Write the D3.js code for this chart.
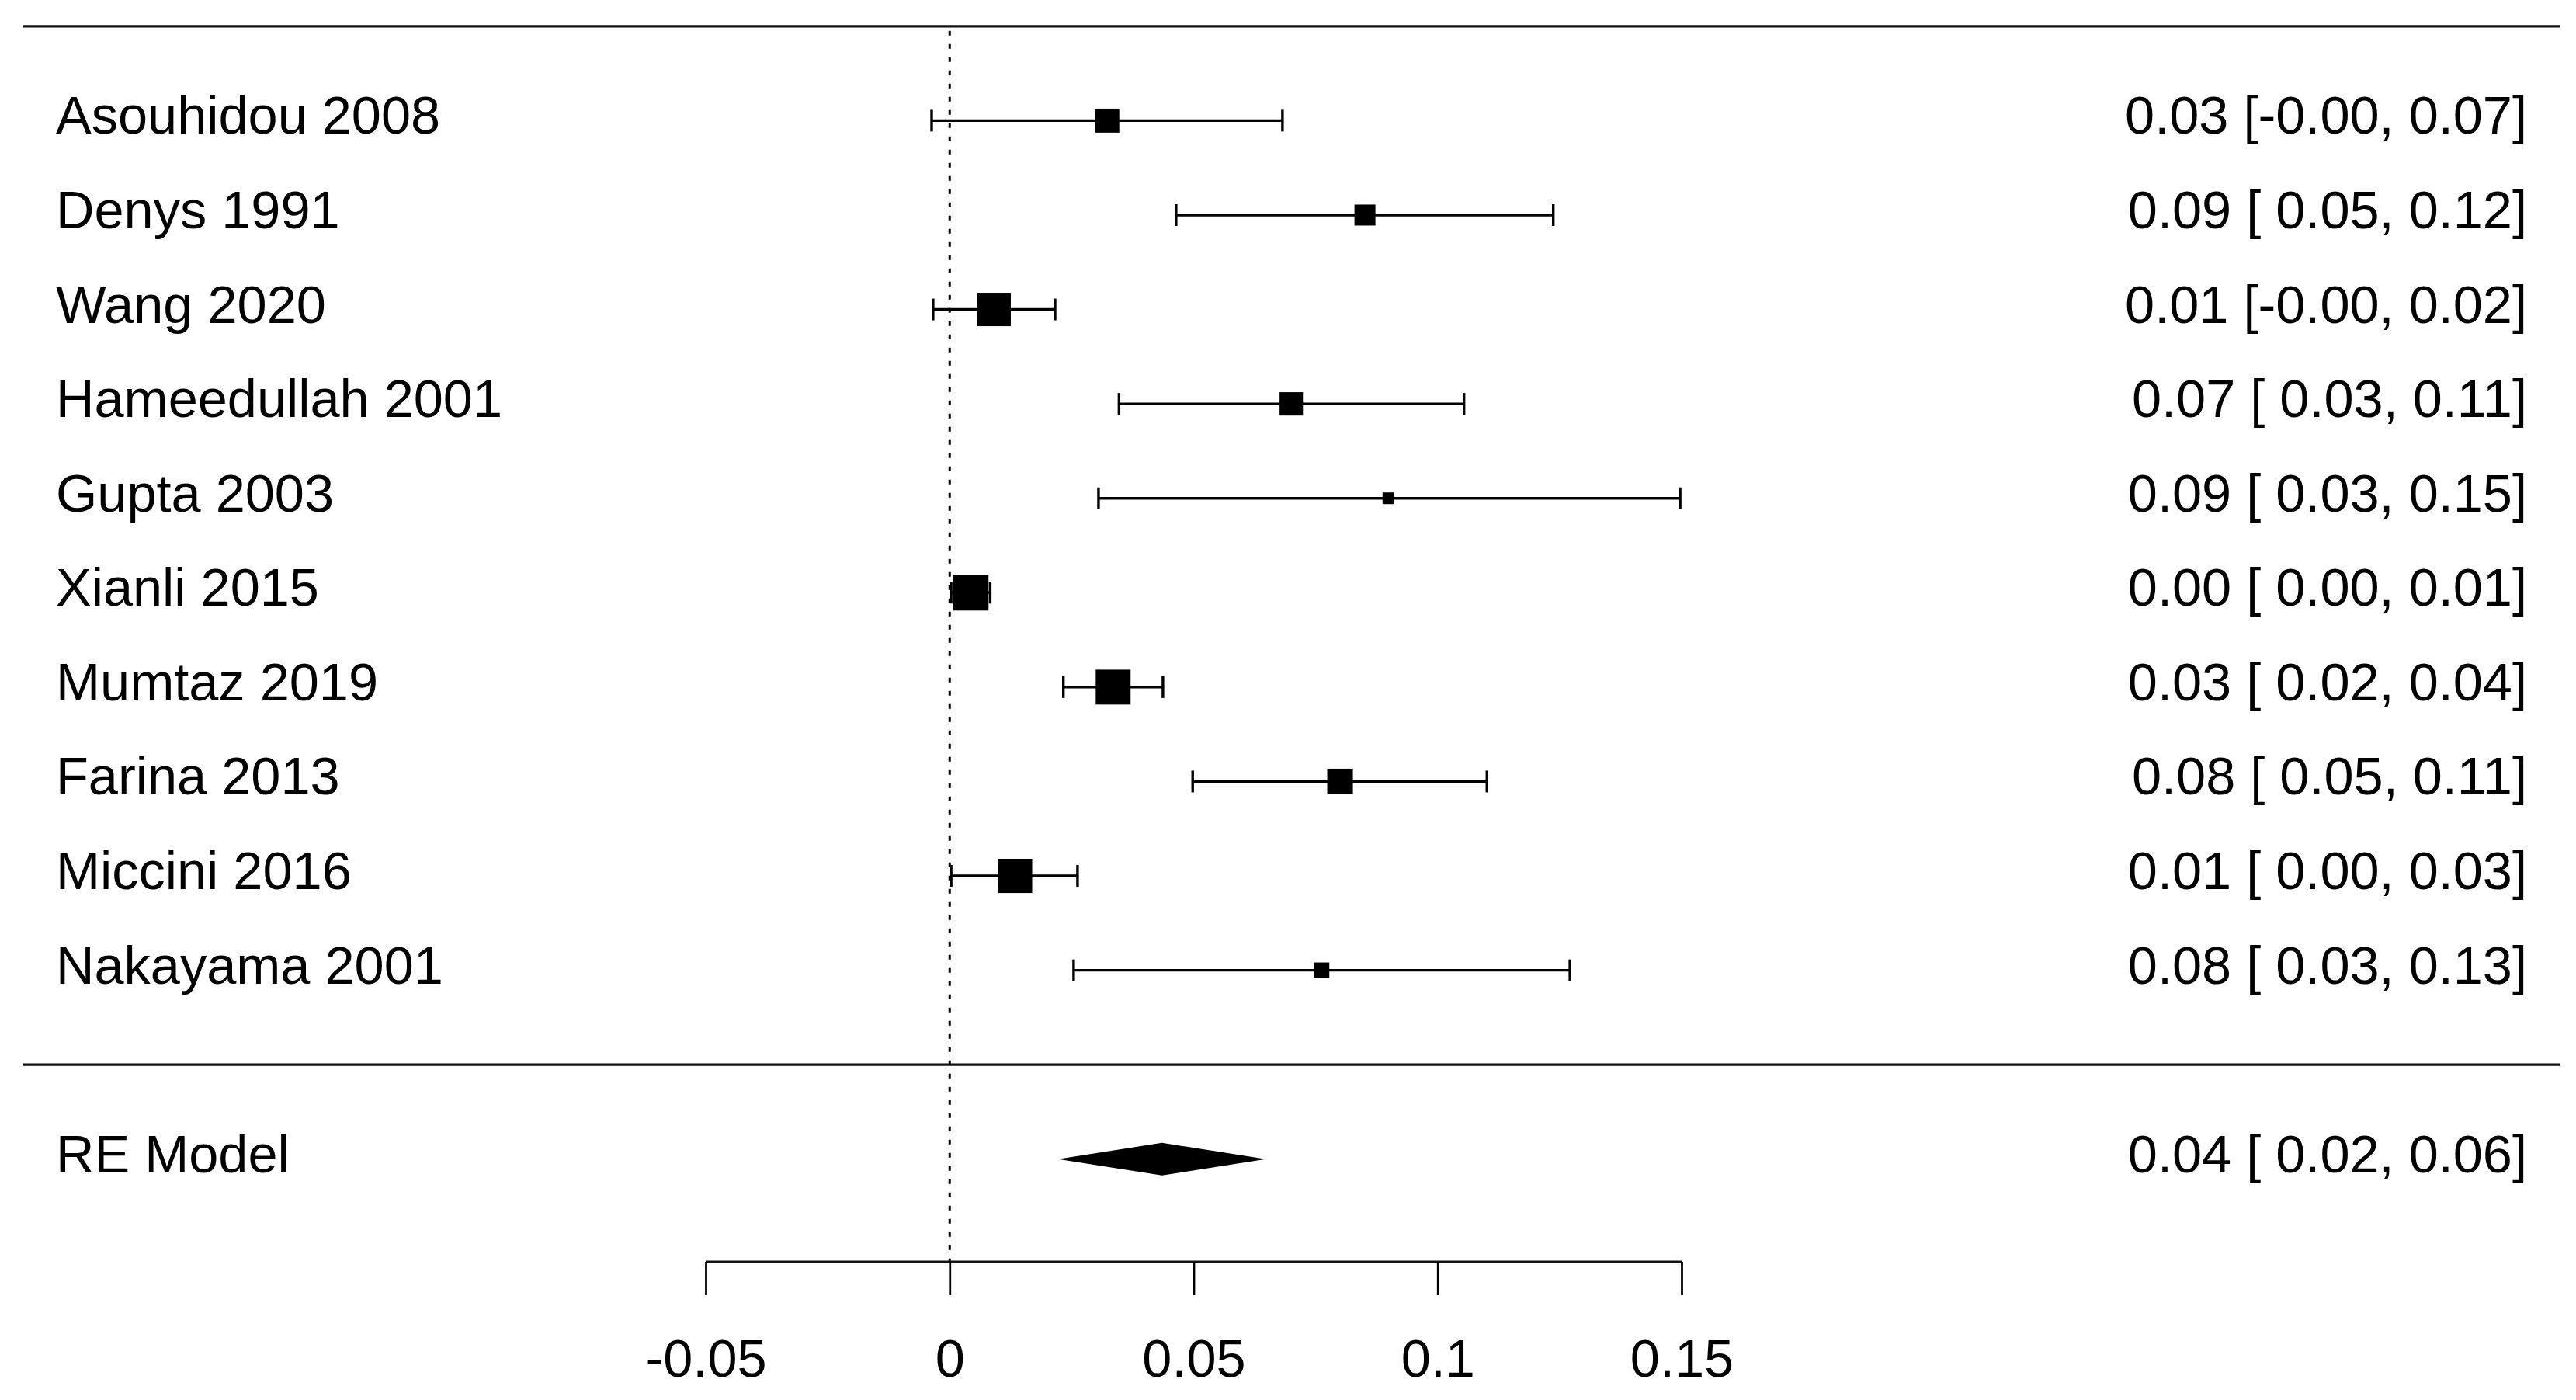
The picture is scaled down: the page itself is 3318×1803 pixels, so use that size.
<!DOCTYPE html>
<html>
<head>
<meta charset="utf-8">
<script src="https://cdn.jsdelivr.net/npm/d3@7"></script>
<style>
  html, body { margin: 0; padding: 0; background: #fff; }
  svg { display: block; }
  text { font-family: "Liberation Sans", Arial, Helvetica, sans-serif; fill: #000; }
</style>
</head>
<body>
<script>
// ---- data ----
const studies   = ["Asouhidou 2008", "Denys 1991", "Wang 2020", "Hameedullah 2001", "Gupta 2003",
                   "Xianli 2015", "Mumtaz 2019", "Farina 2013", "Miccini 2016", "Nakayama 2001"];
const estimates = [0.0323, 0.0851, 0.0091, 0.0700, 0.0899, 0.0043, 0.0335, 0.0800, 0.0134, 0.0762];
const ciLower   = [-0.0037, 0.0464, -0.0034, 0.0347, 0.0305, 0.0003, 0.0233, 0.0498, 0.0003, 0.0254];
const ciUpper   = [0.0682, 0.1237, 0.0216, 0.1054, 0.1497, 0.0083, 0.0437, 0.1101, 0.0262, 0.1271];
const weights   = [9.2, 7.75, 13.7, 8.9, 3.3, 14.8, 14.4, 10.0, 14.1, 5.2];
const modelLabel = "RE Model";
const modelEst   = 0.0435;
const modelLower = 0.0222;
const modelUpper = 0.0648;
const xTicks      = [-0.05, 0, 0.05, 0.1, 0.15];
const xTickLabels = ["-0.05", "0", "0.05", "0.1", "0.15"];

// ---- layout ----
const W = 3318, H = 1803;
const svg = d3.select("body").append("svg").attr("width", W).attr("height", H);
svg.append("rect").attr("width", W).attr("height", H).attr("fill", "#fff");

const k = studies.length;
const x = d3.scaleLinear().domain([-0.05, 0.15]).range([909, 2166]);
const y = d3.scaleLinear().domain([k + 1, 0]).range([33.8, 1371.2]);
const size = d3.scaleLinear().domain([d3.min(weights), d3.max(weights)]).range([15, 46]);

const lineLeft = 30, lineRight = 3298;
const axisY = 1625;
const fontSize = 68.5;
const baselineOffset = 17;
const leftTextX = 72, rightTextX = 3255;
const tickHalf = 14;
const ciWidth = 3.4;

// horizontal rules
[k + 1, 0].forEach(v => {
  svg.append("line")
    .attr("x1", lineLeft).attr("x2", lineRight)
    .attr("y1", y(v)).attr("y2", y(v))
    .attr("stroke", "#111").attr("stroke-width", 3.2);
});

// reference dotted line at 0
svg.append("line")
  .attr("x1", x(0)).attr("x2", x(0))
  .attr("y1", y(k + 1) + 6).attr("y2", axisY)
  .attr("stroke", "#000").attr("stroke-width", 3)
  .attr("stroke-dasharray", "6,11");

// study rows
const rows = svg.append("g").selectAll("g")
  .data(studies.map((s, i) => ({ s, i, est: estimates[i], lo: ciLower[i], hi: ciUpper[i], w: weights[i] })))
  .join("g");

rows.append("line")
  .attr("x1", d => x(d.lo)).attr("x2", d => x(d.hi))
  .attr("y1", d => y(k - d.i)).attr("y2", d => y(k - d.i))
  .attr("stroke", "#000").attr("stroke-width", ciWidth);
rows.append("line")
  .attr("x1", d => x(d.lo)).attr("x2", d => x(d.lo))
  .attr("y1", d => y(k - d.i) - tickHalf).attr("y2", d => y(k - d.i) + tickHalf)
  .attr("stroke", "#000").attr("stroke-width", ciWidth);
rows.append("line")
  .attr("x1", d => x(d.hi)).attr("x2", d => x(d.hi))
  .attr("y1", d => y(k - d.i) - tickHalf).attr("y2", d => y(k - d.i) + tickHalf)
  .attr("stroke", "#000").attr("stroke-width", ciWidth);
rows.append("rect")
  .attr("x", d => x(d.est) - size(d.w) / 2)
  .attr("y", d => y(k - d.i) - size(d.w) / 2)
  .attr("width", d => size(d.w)).attr("height", d => size(d.w))
  .attr("fill", "#000");

rows.append("text")
  .attr("x", leftTextX)
  .attr("y", d => y(k - d.i) + baselineOffset)
  .attr("font-size", fontSize)
  .text(d => d.s);

const anyNegLower = ciLower.some(v => v < 0) || modelLower < 0;
function fmt(est, lo, hi) {
  let l = lo.toFixed(2);
  if (anyNegLower && !l.startsWith("-")) l = " " + l;
  return est.toFixed(2) + " [" + l + ", " + hi.toFixed(2) + "]";
}

rows.append("text")
  .attr("x", rightTextX)
  .attr("y", d => y(k - d.i) + baselineOffset)
  .attr("font-size", fontSize)
  .attr("text-anchor", "end")
  .style("white-space", "pre")
  .text(d => fmt(d.est, d.lo, d.hi));

// summary diamond
const yM = y(-1);
const dh = 21;
svg.append("path")
  .attr("d", d3.line()([[x(modelLower), yM], [x(modelEst), yM - dh], [x(modelUpper), yM], [x(modelEst), yM + dh]]) + "Z")
  .attr("fill", "#000");
svg.append("text")
  .attr("x", leftTextX).attr("y", yM + baselineOffset)
  .attr("font-size", fontSize).text(modelLabel);
svg.append("text")
  .attr("x", rightTextX).attr("y", yM + baselineOffset)
  .attr("font-size", fontSize).attr("text-anchor", "end")
  .style("white-space", "pre")
  .text(fmt(modelEst, modelLower, modelUpper));

// x axis
const axis = d3.axisBottom(x).tickValues(xTicks)
  .tickFormat((d, i) => xTickLabels[i]).tickSize(43).tickPadding(56);
const ax = svg.append("g").attr("transform", `translate(0,${axisY})`).call(axis);
ax.select(".domain").attr("stroke", "#111").attr("stroke-width", 3.2).attr("d", `M${x(-0.05)},0H${x(0.15)}`);
ax.selectAll(".tick line").attr("stroke", "#000").attr("stroke-width", 2.8);
ax.selectAll(".tick text")
  .attr("font-size", fontSize)
  .attr("font-family", "Liberation Sans, Arial, sans-serif")
  .attr("fill", "#000");
</script>
</body>
</html>
